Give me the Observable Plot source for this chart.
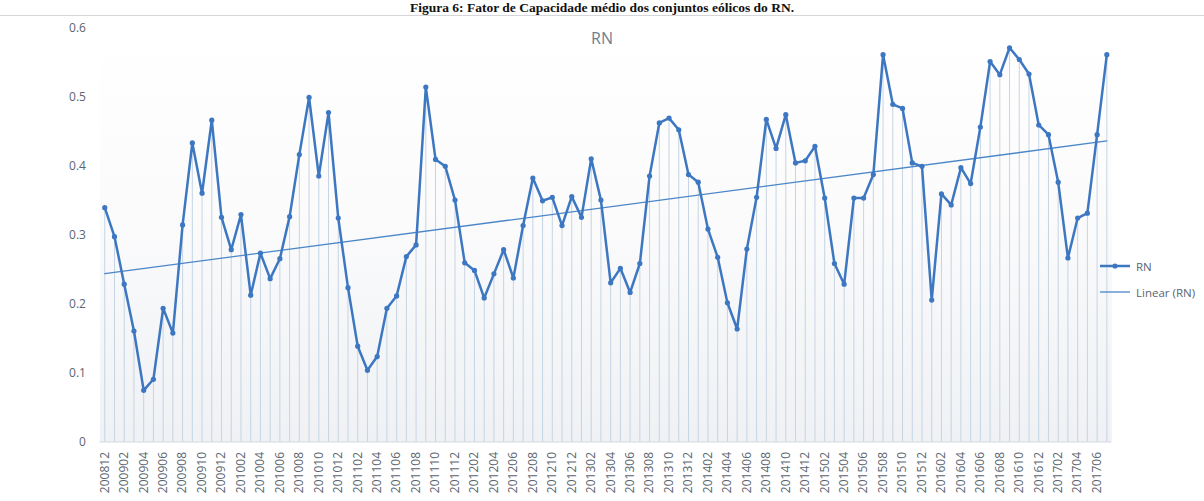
<!DOCTYPE html>
<html><head><meta charset="utf-8">
<script src="https://cdn.jsdelivr.net/npm/d3@7"></script>
<script src="https://cdn.jsdelivr.net/npm/@observablehq/plot@0.6"></script>
<style>
html,body{margin:0;padding:0;background:#fff;overflow:hidden;width:1204px;height:501px;}
#wrap{position:relative;width:1204px;height:501px;overflow:hidden;}
#caption{position:absolute;left:0;top:0;width:1204px;text-align:center;font:bold 13.5px "Liberation Serif","Times New Roman",serif;line-height:15px;color:#111;white-space:nowrap;}
#border{position:absolute;left:0;top:15px;width:1204px;height:1px;background:#d4d6d9;}
#chart{position:absolute;left:0;top:12px;}
#title{position:absolute;top:27px;left:0;width:1204px;text-align:center;font:16px "Open Sans",sans-serif;color:#6d7f93;}
.lg{position:absolute;left:1100px;height:14px;font:11.5px "Open Sans",sans-serif;color:#5a6570;display:flex;align-items:center;white-space:nowrap;}
.lg svg{margin-right:4px;}
</style></head><body>
<div id="wrap">
  <div id="chart"></div>
  <div id="border"></div>
  <div id="caption">Figura 6: Fator de Capacidade médio dos conjuntos eólicos do RN.</div>
  <div id="title">RN</div>
  <div class="lg" style="top:259px"><svg width="32" height="10"><line x1="0" y1="5" x2="30" y2="5" stroke="#3d77c1" stroke-width="2.5"/><circle cx="15" cy="5" r="2.6" fill="#3d77c1"/></svg><span>RN</span></div>
  <div class="lg" style="top:285px"><svg width="32" height="10"><line x1="0" y1="5" x2="30" y2="5" stroke="#4a86c8" stroke-width="1.3"/></svg><span>Linear (RN)</span></div>
</div>
<script>
const months = [
 "200812","200901","200902","200903","200904","200905","200906","200907","200908","200909","200910","200911","200912",
 "201001","201002","201003","201004","201005","201006","201007","201008","201009","201010","201011","201012",
 "201101","201102","201103","201104","201105","201106","201107","201108","201109","201110","201111","201112",
 "201201","201202","201203","201204","201205","201206","201207","201208","201209","201210","201211","201212",
 "201301","201302","201303","201304","201305","201306","201307","201308","201309","201310","201311","201312",
 "201401","201402","201403","201404","201405","201406","201407","201408","201409","201410","201411","201412",
 "201501","201502","201503","201504","201505","201506","201507","201508","201509","201510","201511","201512",
 "201601","201602","201603","201604","201605","201606","201607","201608","201609","201610","201611","201612",
 "201701","201702","201703","201704","201705","201706","201707"
];
const values = [
 0.340,0.298,0.229,0.161,0.075,0.091,0.194,0.158,0.315,0.434,0.361,0.467,0.326,
 0.279,0.330,0.213,0.274,0.237,0.266,0.327,0.417,0.500,0.386,0.478,0.325,
 0.224,0.139,0.104,0.124,0.194,0.212,0.269,0.286,0.515,0.410,0.400,0.351,
 0.260,0.249,0.209,0.244,0.279,0.238,0.314,0.383,0.350,0.355,0.314,0.356,
 0.326,0.411,0.351,0.231,0.252,0.217,0.259,0.386,0.463,0.470,0.453,0.388,
 0.377,0.309,0.268,0.202,0.164,0.280,0.355,0.468,0.426,0.475,0.405,0.408,
 0.429,0.354,0.259,0.229,0.354,0.354,0.388,0.562,0.490,0.484,0.405,0.400,
 0.206,0.360,0.344,0.398,0.375,0.457,0.552,0.533,0.572,0.555,0.534,0.460,
 0.446,0.377,0.267,0.325,0.332,0.446,0.562
];
const yTicks = [0, 0.1, 0.2, 0.3, 0.4, 0.5, 0.6];

const data = months.map((m, i) => ({idx: i, month: m, value: values[i]}));
const xTicks = d3.range(0, months.length, 2);

const chart = Plot.plot({
  width: 1204, height: 489,
  marginLeft: 99.4, marginRight: 92.8, marginTop: 16, marginBottom: 59.5,
  x: {domain: [-0.5, months.length - 0.5], label: null},
  y: {domain: [0, 0.6], label: null},
  style: {fontFamily: "Open Sans, sans-serif", fontSize: "12px", color: "#5a6570", background: "transparent"},
  marks: [
    Plot.frame({fill: "url(#bg)", stroke: null}),
    Plot.ruleX(data, {x: "idx", y1: 0, y2: "value", stroke: "#c6d4e3", strokeWidth: 1}),
    Plot.ruleY([0], {stroke: "#d3d8de", strokeWidth: 1.2}),
    Plot.axisY({ticks: yTicks, tickSize: 0, tickPadding: 14, tickFormat: d3.format("~g"), fill: "#5a6570", fontSize: 12, label: null}),
    Plot.axisX({ticks: xTicks, tickFormat: i => months[i], tickRotate: -90, tickSize: 0, tickPadding: 10, fill: "#5a6570", fontSize: 12, label: null}),
    Plot.linearRegressionY(data, {x: "idx", y: "value", stroke: "#4a86c8", strokeWidth: 1.3, ci: 0}),
    Plot.line(data, {x: "idx", y: "value", stroke: "#3d77c1", strokeWidth: 2.5}),
    Plot.dot(data, {x: "idx", y: "value", r: 2.6, fill: "#3d77c1", stroke: null})
  ]
});
const defs = d3.select(chart).insert("defs", ":first-child");
const g = defs.append("linearGradient").attr("id", "bg").attr("x1", 0).attr("y1", 0).attr("x2", 0).attr("y2", 1);
g.append("stop").attr("offset", "0%").attr("stop-color", "#ffffff");
g.append("stop").attr("offset", "45%").attr("stop-color", "#fbfbfc");
g.append("stop").attr("offset", "100%").attr("stop-color", "#eff1f4");
document.getElementById("chart").appendChild(chart);
</script>
</body></html>
